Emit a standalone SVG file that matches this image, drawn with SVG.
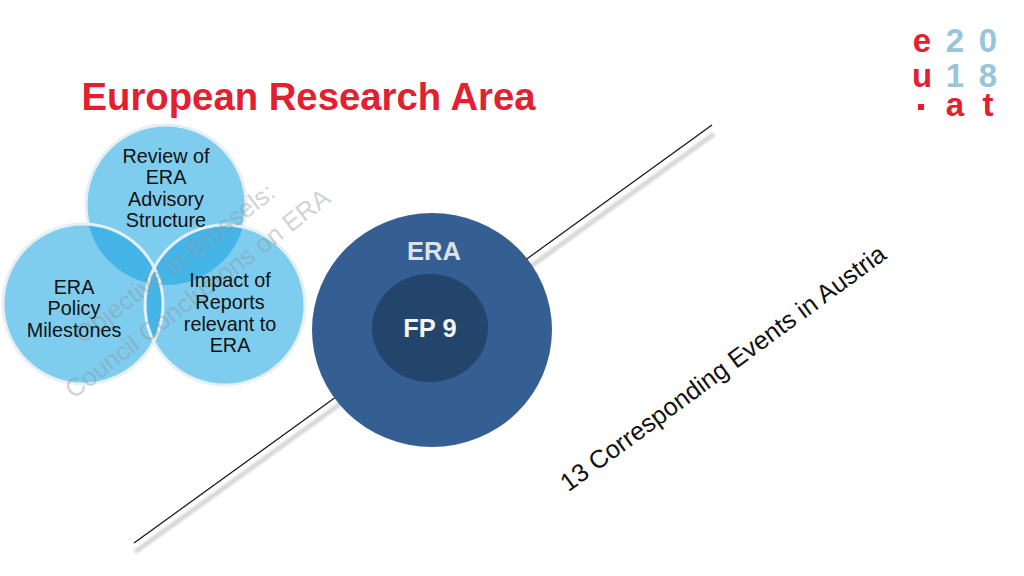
<svg xmlns="http://www.w3.org/2000/svg" width="1024" height="576" viewBox="0 0 1024 576">
<style>
text{font-family:"Liberation Sans",Arial,sans-serif;text-anchor:middle}
.lbl{font-size:19.8px;fill:#111}
.ov{fill:#45B5E8}
.bub{fill:#7FCDEE}
.rim{fill:none;stroke:#E6EFF3;stroke-width:3}
.wm{font-size:25.5px;fill:#8E9396;fill-opacity:.42}
.red{fill:#E2202F;font-size:33px;font-weight:bold}
.blue{fill:#98C4DC;font-size:33px;font-weight:bold}
</style>
<defs>
<clipPath id="cT"><circle cx="166" cy="205" r="80"/></clipPath>
<clipPath id="cL"><circle cx="83" cy="304" r="80"/></clipPath>
<filter id="soft" x="-5%" y="-5%" width="110%" height="110%"><feGaussianBlur stdDeviation="1.2"/></filter>
</defs>
<rect width="1024" height="576" fill="#fff"/>
<text x="308.5" y="110" font-size="38.3" font-weight="bold" fill="#E2202F">European Research Area</text>
<g id="logo">
<text class="red" x="922" y="52">e</text><text class="blue" x="955" y="52">2</text><text class="blue" x="988" y="52">0</text>
<text class="red" x="922" y="87">u</text><text class="blue" x="955" y="87">1</text><text class="blue" x="988" y="87">8</text>
<rect x="918" y="104" width="6" height="6" fill="#E2202F"/><text class="red" x="955" y="116">a</text><text class="red" x="988" y="116">t</text>
</g>
<g id="connectors">
<line x1="135" y1="552" x2="714" y2="134" stroke="#D8D8D8" stroke-width="5" filter="url(#soft)"/>
<line x1="134" y1="543" x2="712" y2="125" stroke="#111" stroke-width="1.2"/>
</g>
<g id="node-review"><circle class="bub" cx="166" cy="205" r="80"/><circle class="rim" cx="166" cy="205" r="80"/></g>
<g id="node-milestones"><circle class="bub" cx="83" cy="304" r="80"/></g>
<g id="node-impact"><circle class="bub" cx="225" cy="305" r="80"/></g>
<g id="overlaps">
<circle class="ov" cx="83" cy="304" r="80" clip-path="url(#cT)"/>
<circle class="ov" cx="225" cy="305" r="80" clip-path="url(#cT)"/>
<circle class="ov" cx="225" cy="305" r="80" clip-path="url(#cL)"/>
<circle class="rim" cx="83" cy="304" r="80"/>
<circle class="rim" cx="225" cy="305" r="80"/>
</g>
<g id="watermark" transform="rotate(-37.5 200 290)">
<text class="wm" x="196" y="262">Objective in Brussels:</text>
<text class="wm" x="196" y="300">Council Conclusions on ERA</text>
</g>
<g id="labels">
<text class="lbl" x="166" y="163">Review of</text><text class="lbl" x="166" y="184">ERA</text><text class="lbl" x="166" y="206">Advisory</text><text class="lbl" x="166" y="227">Structure</text>
<text class="lbl" x="74" y="294">ERA</text><text class="lbl" x="74" y="315">Policy</text><text class="lbl" x="74" y="337">Milestones</text>
<text class="lbl" x="230" y="287">Impact of</text><text class="lbl" x="230" y="309">Reports</text><text class="lbl" x="230" y="331">relevant to</text><text class="lbl" x="230" y="352">ERA</text>
</g>
<g id="node-era"><ellipse cx="432" cy="330" rx="120" ry="117" fill="#355F92"/><text x="434" y="260" font-size="25.5" font-weight="bold" fill="#DDE2EA">ERA</text></g>
<g id="node-fp9"><ellipse cx="430" cy="328" rx="58" ry="54" fill="#23446B"/><text x="430" y="337" font-size="25.5" font-weight="bold" fill="#F2F4F7">FP 9</text></g>
<text transform="translate(728,375) rotate(-36.3)" font-size="25.3" fill="#111">13 Corresponding Events in Austria</text>
</svg>
